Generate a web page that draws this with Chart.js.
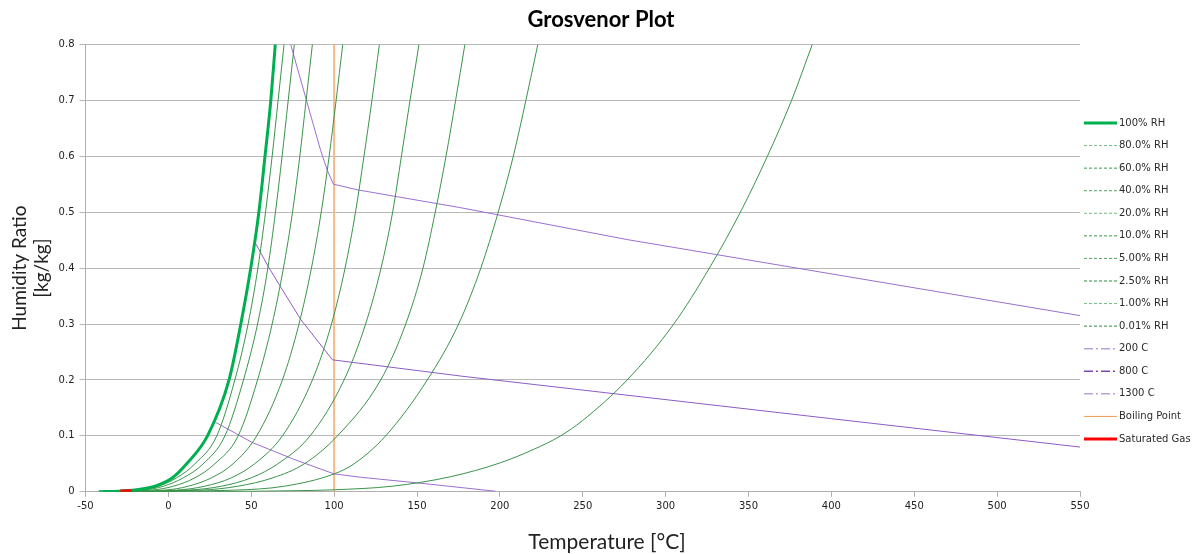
<!DOCTYPE html>
<html>
<head>
<meta charset="utf-8">
<script src="https://cdn.jsdelivr.net/npm/chart.js@4.4.0/dist/chart.umd.min.js"></script>
<style>
  html, body { margin: 0; padding: 0; background: #fff; }
</style>
</head>
<body>
<canvas id="grosvenor" width="1196" height="554"></canvas>
<script>
// [temperature C, humidity ratio kg/kg]
const rh100 = [[-42, 0.0003], [-30, 0.001], [-18, 0.004], [-8, 0.01], [2.5, 0.025], [11, 0.05], [23.6, 0.1], [36.6, 0.2], [43.7, 0.3], [49.7, 0.4], [54.6, 0.5], [58.3, 0.6], [61.8, 0.7], [64.5, 0.8]];
const rh80 = [[-40, 0.0003], [-18, 0.003], [-6, 0.01], [5, 0.025], [16, 0.05], [29.2, 0.1], [40.1, 0.2], [48.1, 0.3], [54.0, 0.4], [58.6, 0.5], [62.6, 0.6], [66.2, 0.7], [69.8, 0.8]];
const rh60 = [[-38, 0.0003], [-15, 0.003], [-3, 0.01], [9, 0.025], [21, 0.05], [34.1, 0.1], [45.3, 0.2], [53.8, 0.3], [60.0, 0.4], [64.6, 0.5], [68.6, 0.6], [72.3, 0.7], [76.0, 0.8]];
const rh40 = [[-36, 0.0003], [-10, 0.003], [3, 0.01], [16, 0.025], [28, 0.05], [42.1, 0.1], [53.8, 0.2], [62.6, 0.3], [69.4, 0.4], [74.9, 0.5], [79.3, 0.6], [83.1, 0.7], [86.9, 0.8]];
const rh20 = [[-35, 0.0002], [-2, 0.003], [12, 0.01], [26, 0.025], [39, 0.05], [53.3, 0.1], [68.8, 0.2], [78.8, 0.3], [86.3, 0.4], [92.2, 0.5], [97.0, 0.6], [101.2, 0.7], [105.2, 0.8]];
const rh10 = [[-35, 0.0002], [5, 0.003], [22, 0.01], [38, 0.025], [52, 0.05], [68.8, 0.1], [86.9, 0.2], [98.4, 0.3], [106.6, 0.4], [112.9, 0.5], [118.0, 0.6], [122.8, 0.7], [127.3, 0.8]];
const rh5 = [[-35, 0.0002], [12, 0.003], [32, 0.01], [50, 0.025], [66, 0.05], [85.5, 0.1], [106.0, 0.2], [119.0, 0.3], [128.3, 0.4], [135.3, 0.5], [140.6, 0.6], [145.8, 0.7], [151.2, 0.8]];
const rh2p5 = [[-35, 0.0002], [20, 0.003], [42, 0.01], [63, 0.025], [82, 0.05], [102.0, 0.1], [128.1, 0.2], [143.2, 0.3], [153.6, 0.4], [161.0, 0.5], [167.5, 0.6], [173.3, 0.7], [178.9, 0.8]];
const rh1 = [[-35, 0.0002], [40, 0.003], [70, 0.01], [100, 0.032], [112, 0.05], [131.1, 0.1], [156.2, 0.2], [175.1, 0.3], [188.5, 0.4], [199.0, 0.5], [208.1, 0.6], [215.7, 0.7], [222.9, 0.8]];
const rh001 = [[-35, 0.0001], [30, 0.0005], [78, 0.002], [100, 0.0036], [135, 0.01], [170.3, 0.027], [200.4, 0.052], [220.5, 0.076], [236.6, 0.1], [249.7, 0.127], [276.8, 0.2], [304.9, 0.3], [326.4, 0.4], [345.1, 0.5], [361.4, 0.6], [376.0, 0.7], [388.5, 0.8]];

const line200 = [[28.6, 0.124], [50.7, 0.088], [75.8, 0.058], [100, 0.032], [116, 0.026], [150, 0.016], [197.4, 0.001]];
const line800 = [[51.7, 0.449], [60.8, 0.4], [67.8, 0.366], [79.9, 0.308], [99, 0.236], [176.3, 0.207], [399.3, 0.131], [550, 0.08]];
const line1300 = [[73.8, 0.8], [83.3, 0.7], [91.9, 0.61], [96, 0.574], [99.6, 0.55], [114, 0.540], [176.3, 0.508], [276.8, 0.451], [399.3, 0.39], [550, 0.315]];
const boiling = [[100, 0], [100, 0.8]];
const satGas = [[-29, 0.0015], [-22, 0.002]];

const rhLabels = ['100% RH', '80.0% RH', '60.0% RH', '40.0% RH', '20.0% RH', '10.0% RH', '5.00% RH', '2.50% RH', '1.00% RH', '0.01% RH'];
const rhSeries = [rh100, rh80, rh60, rh40, rh20, rh10, rh5, rh2p5, rh1, rh001];
const rhLegendColors = ['#00b050', '#6fbf7f', '#3a9a4c', '#4fa861', '#6fbf7f', '#3a9a4c', '#4fa861', '#2e8a3f', '#6fbf7f', '#2e8a3f'];

const tempTicks = [-50, 550, 50];
const ratioTicks = [0, 0.8, 0.1];

const pts = arr => arr.map(p => ({x: p[0], y: p[1]}));

const datasets = rhSeries.map((s, i) => ({
    label: rhLabels[i],
    data: pts(s),
    borderColor: i === 0 ? '#00b050' : '#3a944a',
    borderWidth: i === 0 ? 3 : 1,
    cubicInterpolationMode: 'monotone',
    legendColor: rhLegendColors[i],
    legendDash: i === 0 ? [] : [3, 2],
    legendWidth: i === 0 ? 3 : 1
}));

datasets.push(
    {label: '200 C', data: pts(line200), borderColor: '#9b6fcf', borderWidth: 1, legendColor: '#b8a2dc', legendDash: [9, 3, 2, 3], legendWidth: 1.5},
    {label: '800 C', data: pts(line800), borderColor: '#8d5cc4', borderWidth: 1, legendColor: '#7a48b4', legendDash: [9, 3, 2, 3], legendWidth: 1.5},
    {label: '1300 C', data: pts(line1300), borderColor: '#9b6fcf', borderWidth: 1, legendColor: '#b8a2dc', legendDash: [9, 3, 2, 3], legendWidth: 1.5},
    {label: 'Boiling Point', data: pts(boiling), borderColor: '#f6b98a', borderWidth: 2, legendColor: '#ee9a52', legendWidth: 1},
    {label: 'Saturated Gas', data: pts(satGas), borderColor: '#ff0000', borderWidth: 3, order: -1, legendColor: '#ff0000', legendWidth: 3}
);

datasets.forEach(d => { d.showLine = true; d.pointRadius = 0; d.pointHoverRadius = 0; });

const titleText = 'Grosvenor Plot';
const xTitleText = 'Temperature [°C]';

// titles and legend drawn by hand so they sit where the Excel original has them
const sidePlugin = {
    id: 'side',
    afterDraw(c) {
        const g = c.ctx;
        const area = c.chartArea;
        g.save();
        g.textAlign = 'center';
        g.textBaseline = 'middle';
        g.fillStyle = '#000';
        g.font = 'bold 22px Lato';
        g.fillText(titleText, 601, 20);

        g.font = '21px Lato';
        g.fillStyle = '#222';
        g.fillText(xTitleText, 607, 542);

        const x0 = area.right + 4;
        g.font = "10px 'DejaVu Sans'";
        g.textAlign = 'left';
        c.data.datasets.forEach((ds, i) => {
            const y = 123 + i * 22.57;
            g.beginPath();
            g.setLineDash(ds.legendDash || []);
            g.strokeStyle = ds.legendColor;
            g.lineWidth = ds.legendWidth;
            g.moveTo(x0, y);
            g.lineTo(x0 + 33, y);
            g.stroke();
            g.setLineDash([]);
            g.fillStyle = '#2a2a2a';
            g.fillText(ds.label, x0 + 35, y);
        });
        g.restore();
    }
};

Chart.defaults.font.family = "'DejaVu Sans', sans-serif";
Chart.defaults.font.size = 10;
Chart.defaults.color = '#404040';

const ctx = document.getElementById('grosvenor').getContext('2d');
const chart = new Chart(ctx, {
    type: 'scatter',
    data: {datasets: datasets},
    plugins: [sidePlugin],
    options: {
        responsive: false,
        animation: false,
        layout: {autoPadding: false, padding: {left: 0, right: 116, top: 0, bottom: 0}},
        plugins: {
            tooltip: {enabled: false},
            legend: {display: false},
            title: {
                display: true,
                text: titleText,
                color: 'rgba(0,0,0,0)',
                font: {family: 'Lato', size: 22, weight: 'bold'},
                padding: {top: 8, bottom: 10}
            }
        },
        scales: {
            x: {
                type: 'linear',
                min: tempTicks[0],
                max: tempTicks[1],
                ticks: {stepSize: tempTicks[2], color: '#222', padding: 4},
                grid: {drawOnChartArea: false, drawTicks: true, tickLength: 5, color: '#b0b0b0'},
                border: {color: '#b0b0b0'},
                title: {display: true, text: xTitleText, color: 'rgba(0,0,0,0)', font: {family: 'Lato', size: 21}, padding: {top: 12, bottom: 0}}
            },
            y: {
                type: 'linear',
                min: ratioTicks[0],
                max: ratioTicks[1],
                ticks: {stepSize: ratioTicks[2], color: '#222', padding: 5},
                grid: {color: '#b8b8b8', tickLength: 6},
                border: {color: '#b0b0b0'},
                title: {display: true, text: ['Humidity Ratio', '[kg/kg]'], color: '#222', font: {family: 'Lato', size: 19, lineHeight: 1.2}, padding: {top: 8, bottom: 0}}
            }
        }
    }
});
</script>
</body>
</html>
